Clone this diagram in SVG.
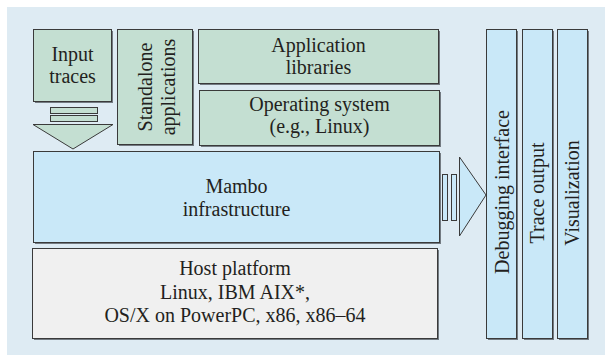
<svg xmlns="http://www.w3.org/2000/svg" width="605" height="355" viewBox="0 0 605 355">
<style>
  .box{stroke:#3a3a3a;stroke-width:1}
  .sh{fill:#737b82}
  .g{fill:#c4dfd2}
  .b{fill:#c9e8f8}
  .w{fill:#f0f0f0}
  .t{font-size:20px;fill:#231f20;text-anchor:middle}
  .ar{stroke:#3a3a3a;stroke-width:1}
</style>
<rect x="0" y="0" width="605" height="355" fill="#ffffff"/>
<rect x="7" y="7" width="598" height="348" fill="#deebf3"/>
<g font-family="Liberation Serif, Tinos, Times New Roman, DejaVu Serif, serif">
<g id="input-traces">
  <rect class="sh" x="35" y="31" width="78" height="72"/>
  <rect class="box g" x="33.5" y="29.5" width="78" height="72"/>
  <text class="t" x="72.5" y="61">Input</text>
  <text class="t" x="72.5" y="83">traces</text>
</g>

<g id="standalone-applications">
  <rect class="sh" x="119" y="31" width="75" height="115"/>
  <rect class="box g" x="117.5" y="29.5" width="75" height="115"/>
  <text class="t" transform="translate(152,87) rotate(-90)">Standalone</text>
  <text class="t" transform="translate(175,87) rotate(-90)">applications</text>
</g>

<g id="application-libraries">
  <rect class="sh" x="200" y="31" width="240" height="54"/>
  <rect class="box g" x="198.5" y="29.5" width="240" height="54"/>
  <text class="t" x="318.5" y="52">Application</text>
  <text class="t" x="318.5" y="74">libraries</text>
</g>

<g id="operating-system">
  <rect class="sh" x="201" y="92" width="240" height="55"/>
  <rect class="box g" x="199.5" y="90.5" width="240" height="55"/>
  <text class="t" x="319.5" y="111">Operating system</text>
  <text class="t" x="319.5" y="133">(e.g., Linux)</text>
</g>

<g id="mambo">
  <rect class="sh" x="35" y="153" width="406" height="91"/>
  <rect class="box b" x="33.5" y="151.5" width="406" height="91"/>
  <text class="t" x="236.5" y="193">Mambo</text>
  <text class="t" x="236.5" y="216">infrastructure</text>
</g>

<g id="host-platform">
  <rect class="sh" x="34" y="250" width="405" height="90"/>
  <rect class="box w" x="32.5" y="248.5" width="405" height="90"/>
  <text class="t" x="235" y="275">Host platform</text>
  <text class="t" x="235" y="299">Linux, IBM AIX*,</text>
  <text class="t" x="235" y="322">OS/X on PowerPC, x86, x86–64</text>
</g>

<g id="debugging-interface">
  <rect class="sh" x="488" y="31" width="30" height="309"/>
  <rect class="box b" x="486.5" y="29.5" width="30" height="309"/>
  <text class="t" transform="translate(508.5,192) rotate(-90)">Debugging interface</text>
</g>

<g id="trace-output">
  <rect class="sh" x="524" y="31" width="30" height="309"/>
  <rect class="box b" x="522.5" y="29.5" width="30" height="309"/>
  <text class="t" transform="translate(543.5,193) rotate(-90)">Trace output</text>
</g>

<g id="visualization">
  <rect class="sh" x="559" y="31" width="30" height="309"/>
  <rect class="box b" x="557.5" y="29.5" width="30" height="309"/>
  <text class="t" transform="translate(578.5,193) rotate(-90)">Visualization</text>
</g>
</g>
<g id="connectors">
  <rect class="ar g" x="50.5" y="107.5" width="47" height="6"/>
  <rect class="ar g" x="50.5" y="115.5" width="47" height="6"/>
  <polygon class="ar g" points="33,124.5 113,124.5 73,149"/>
  <rect class="ar b" x="442.5" y="174.5" width="5" height="46"/>
  <rect class="ar b" x="451.5" y="174.5" width="5" height="46"/>
  <polygon class="ar b" points="459.5,157 459.5,236 486,195"/>
</g>
</svg>
